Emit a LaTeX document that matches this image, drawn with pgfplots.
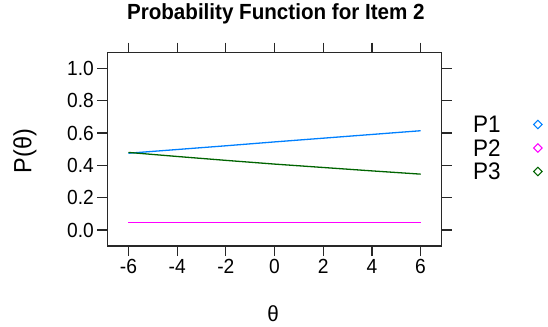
\documentclass[border=0pt]{standalone}
\usepackage{fontspec}
\setmainfont{Liberation Sans}[FakeStretch=0.94]
\usepackage{pgfplots}
\pgfplotsset{compat=1.18}
\definecolor{c1}{HTML}{0080FF}
\definecolor{c2}{HTML}{FF00FF}
\definecolor{c3}{RGB}{0,100,0}
\definecolor{frame}{RGB}{40,40,40}
\begin{document}
\begin{tikzpicture}[x=1bp,y=1bp]
\useasboundingbox (0,0) rectangle (548,326);
\begin{axis}[
  at={(107.3bp,80bp)}, anchor=south west,
  scale only axis, width=334.4bp, height=193.3bp,
  xmin=-6.87, xmax=6.87, ymin=-0.098, ymax=1.096,
  xtick={-6,-4,...,6}, ytick={0,0.2,...,1.0},
  yticklabel style={/pgf/number format/.cd,fixed,fixed zerofill,precision=1},
  /pgf/number format/assume math mode=true,
  tick align=outside, tick pos=both,
  xticklabel pos=lower, yticklabel pos=left,
  major tick length=10bp,
  axis line style={frame, line width=1.3bp},
  every tick/.style={frame, line width=1.3bp},
  tick label style={font=\fontsize{20.5}{22}\selectfont},
  title={\textbf{Probability Function for Item 2}},
  title style={at={(axis description cs:0.504,1.169)}, anchor=center, font=\fontsize{22}{24}\selectfont},
  xlabel={θ},
  xlabel style={at={(axis description cs:0.496,-0.348)}, anchor=center, font=\fontsize{22}{24}\selectfont},
  ylabel={P(θ)},
  ylabel style={at={(axis description cs:-0.246,0.491)}, anchor=center, rotate=0, font=\fontsize{25}{27}\selectfont},
  legend plot pos=right,
  legend cell align=left,
  legend style={at={(axis description cs:1.0936,0.507)}, anchor=west, draw=none, fill=none,
    font=\fontsize{24}{26}\selectfont, inner sep=0pt, row sep=6.5bp,
    nodes={inner sep=0pt, text height=17bp, text depth=0bp}},
  legend image code/.code={\path (0bp,0bp) (42bp,0bp); \draw[#1, only marks, mark=square, mark size=3bp, mark options={rotate=45}, line width=1bp] plot coordinates {(37bp,0bp)};},
]
\addplot[c1, line width=1.3bp, forget plot] coordinates {(-6,0.475) (-4,0.498) (-2,0.521) (0,0.545) (2,0.568) (4,0.591) (6,0.614)};
\addplot[c2, line width=1.3bp, forget plot] coordinates {(-6,0.049) (-4,0.049) (-2,0.049) (0,0.049) (2,0.049) (4,0.049) (6,0.049)};
\addplot[c3, line width=1.3bp, forget plot] coordinates {(-6,0.480) (-4,0.455) (-2,0.431) (0,0.408) (2,0.387) (4,0.366) (6,0.346)};
\addlegendimage{c1}
\addlegendentry{P1}
\addlegendimage{c2}
\addlegendentry{P2}
\addlegendimage{c3}
\addlegendentry{P3}
\end{axis}
\end{tikzpicture}
\end{document}
